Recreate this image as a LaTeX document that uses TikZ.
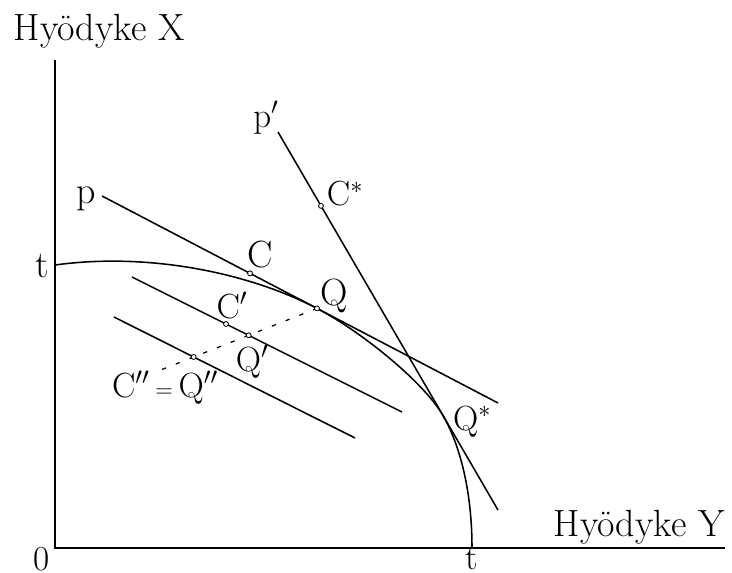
\documentclass[tikz,border=0pt]{standalone}
\usepackage{tikz}

\begin{document}
\begin{tikzpicture}[line width=1.1pt,
    lbl/.style={font=\fontsize{27}{32}\selectfont, inner sep=0pt},
    dotmark/.style={circle, draw, fill=white, line width=0.6pt, inner sep=0pt, minimum size=3.5pt}]
  \useasboundingbox (-1.375,-0.625) rectangle (16.925,13.7);
  % axes
  \coordinate (O) at (0,0);
  \coordinate (yTop) at (0,12.2);
  \coordinate (xEnd) at (16.75,0);
  \draw (yTop) -- (O) -- (xEnd);
  \node[lbl, anchor=base west] (axisX) at (-1.05,12.68) {Hyödyke X};
  \node[lbl, anchor=base west] (axisY) at (12.45,0.28) {Hyödyke Y};
  \node[lbl, font=\fontsize{25}{30}\selectfont] (zero) at (-0.34,-0.27) {0};
  % production possibility curve
  \coordinate (tY) at (0,7.075);
  \coordinate (tX) at (10.425,0);
  \coordinate (Q) at (6.55,5.99);
  \coordinate (Qs) at (9.7,3.313);
  \draw (tY) .. controls (2.375,7.4) and (4.875,6.865) .. (Q)
        .. controls (7.625,5.43) and (9.2,4.172) .. (Qs)
        .. controls (10.0,2.798) and (10.425,1.7) .. (tX);
  \node[lbl] (tYlbl) at (-0.31,7.05) {t};
  \node[lbl, font=\fontsize{25}{30}\selectfont] (tXlbl) at (10.41,-0.27) {t};
  % price lines
  \coordinate (pA) at (1.175,8.8);
  \coordinate (pB) at (11.075,3.625);
  \draw (pA) -- (pB);
  \coordinate (ppA) at (5.575,10.4);
  \coordinate (ppB) at (11.075,0.95);
  \draw (ppA) -- (ppB);
  \coordinate (mA) at (1.925,6.775);
  \coordinate (mB) at (8.675,3.4);
  \draw (mA) -- (mB);
  \coordinate (lA) at (1.475,5.775);
  \coordinate (lB) at (7.5,2.75);
  \draw (lA) -- (lB);
  % points
  \coordinate (E) at (2.45,4.375);
  \coordinate (C) at (4.875,6.866);
  \coordinate (Cs) at (6.65,8.553);
  \coordinate (Cp) at (4.275,5.6);
  \coordinate (Qp) at (intersection of Q--E and mA--mB);
  \coordinate (Qpp) at (intersection of Q--E and lA--lB);
  \draw[dash pattern=on 3pt off 7.5pt, line width=0.9pt] (Q) -- (E);
  \foreach \pt in {C, Cs, Cp, Q, Qp, Qpp}
    \node[dotmark] (d\pt) at (\pt) {};
  % labels
  \node[lbl] (pLbl) at (0.775,8.725) {p};
  \node[lbl] (ppLbl) at (5.275,10.75) {$\mathrm{p}'$};
  \node[lbl] (CsLbl) at (7.25,8.85) {$\mathrm{C}^*$};
  \node[lbl] (CLbl) at (5.12,7.325) {C};
  \node[lbl] (QLbl) at (6.98,6.3) {Q};
  \node[lbl] (CpLbl) at (4.425,6.075) {$\mathrm{C}'$};
  \node[lbl] (QpLbl) at (4.93,4.65) {$\mathrm{Q}'$};
  \node[lbl] (QppLbl) at (2.75,4.0) {$\mathrm{C}''\,{\scriptstyle=}\,\mathrm{Q}''$};
  \node[lbl] (QsLbl) at (10.43,3.15) {$\mathrm{Q}^*$};
\end{tikzpicture}
\end{document}
